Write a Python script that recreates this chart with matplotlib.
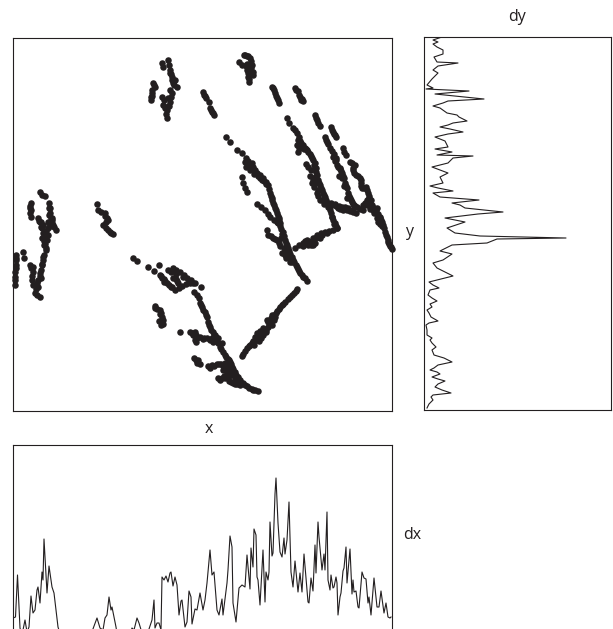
import matplotlib
matplotlib.use('Agg')
import matplotlib.pyplot as plt

plt.rcParams['font.family'] = ['Open Sans', 'DejaVu Sans']

W = 613.0
H = 629.0
INK = '#231f20'

# scatter values, one list per cluster
top_a_x = [162, 163, 168, 169, 170, 171, 172, 173, 175, 177, 172, 171, 170, 169, 167, 167, 162, 163, 165, 153, 155, 152, 151, 152, 170, 172, 174, 170, 168, 168, 166, 164, 154, 152, 151]
top_a_y = [63, 67, 60, 65, 70, 74, 77, 83, 80, 87, 93, 97, 102, 106, 110, 118, 97, 105, 108, 83, 87, 93, 100, 96, 73, 80, 85, 90, 98, 106, 114, 100, 85, 90, 97]
left_a_x = [40, 42, 45, 31, 30, 30, 49, 50, 50, 52, 52, 38, 41, 41, 42, 43, 45, 45, 46, 50, 52, 56, 48, 47, 31, 49, 51, 53, 54, 49, 48, 50, 30, 40, 43, 42, 44, 46, 46, 48, 52, 31, 39, 44]
left_a_y = [192, 195, 196, 203, 208, 213, 203, 208, 213, 223, 218, 218, 222, 227, 228, 233, 238, 244, 250, 226, 225, 230, 235, 240, 217, 208, 218, 225, 227, 215, 222, 225, 206, 222, 225, 238, 245, 248, 231, 228, 220, 210, 221, 241]
left_b_x = [16, 16, 16, 15, 15, 15, 23, 24, 30, 33, 33, 32, 37, 40, 43, 42, 41, 35, 40, 38, 44, 33, 16, 16, 15, 42, 43, 41, 40, 38, 31, 32, 36, 37]
left_b_y = [255, 260, 265, 272, 277, 285, 252, 258, 265, 267, 272, 280, 283, 273, 260, 264, 278, 293, 297, 287, 255, 285, 258, 268, 280, 265, 257, 270, 276, 280, 268, 276, 289, 295]
mid_c_x = [97, 98, 101, 105, 108, 104, 107, 103, 108, 113, 110, 105, 106, 106, 111]
mid_c_y = [204, 210, 212, 213, 220, 225, 218, 225, 230, 234, 232, 216, 222, 228, 233]
top_d_x = [239, 242, 245, 248, 250, 252, 253, 247, 248, 249, 250, 247, 244, 247, 251, 251, 248, 249, 246, 253, 249]
top_d_y = [62, 65, 55, 56, 58, 65, 72, 70, 77, 82, 70, 64, 55, 56, 61, 68, 73, 66, 66, 75, 79]
strip_e_x = [203, 204, 206, 209, 210, 212, 214, 205, 211, 213]
strip_e_y = [92, 95, 98, 102, 108, 112, 115, 96, 110, 113]
strip_f_x = [272, 274, 275, 277, 279, 273, 276, 278]
strip_f_y = [87, 90, 93, 98, 103, 88, 96, 100]
strip_g_x = [295, 298, 300, 303, 301, 299, 296, 302]
strip_g_y = [88, 91, 97, 101, 100, 95, 90, 99]
branch_h_x = [287, 289, 293, 297, 298, 301, 303, 306, 308, 311, 313, 314, 315, 317, 318, 320, 322, 325, 327, 330, 332, 335, 337,
              295, 299, 300, 305, 307, 310, 312, 315, 316, 316, 319, 321, 323, 324, 326, 328, 329, 331, 333, 334, 336]
branch_h_y = [118, 123, 128, 133, 140, 143, 145, 149, 152, 156, 160, 165, 170, 175, 180, 185, 190, 197, 203, 210, 217, 223, 228,
              130, 137, 141, 148, 150, 154, 158, 163, 168, 172, 183, 188, 193, 195, 200, 207, 207, 213, 220, 224, 226]
side_h_x = [297, 298, 300, 306, 311, 315, 312, 314, 317, 320, 310, 308, 299, 302, 304, 318, 315, 313, 318, 322, 324]
side_h_y = [145, 152, 148, 164, 170, 177, 183, 187, 193, 200, 176, 167, 148, 146, 149, 190, 183, 180, 196, 200, 204]
strip_i_x = [315, 317, 320, 331, 333, 336, 343, 346, 316, 318, 332, 334, 335, 344]
strip_i_y = [115, 120, 126, 127, 132, 137, 148, 155, 118, 123, 130, 134, 135, 152]
branch_k_x = [325, 328, 332, 333, 335, 337, 340, 342, 344, 345, 347, 348, 350, 352, 354, 357, 360, 363, 336, 340, 339,
              326, 327, 330, 334, 336, 338, 341, 343, 346, 349, 351, 353, 355, 342, 344, 347]
branch_k_y = [137, 144, 151, 157, 161, 165, 169, 173, 178, 183, 188, 193, 198, 202, 205, 207, 209, 210, 160, 168, 176,
              140, 142, 148, 154, 158, 167, 171, 176, 186, 196, 200, 204, 206, 178, 186, 198]
cross_x = [328, 331, 335, 339, 342, 345, 348, 352, 356, 338, 343, 332, 336, 340, 344, 347, 350, 353]
cross_y = [203, 203, 204, 206, 207, 207, 208, 210, 213, 208, 210, 205, 206, 209, 209, 210, 211, 212]
branch_m_x = [350, 355, 353, 354, 360, 361, 362, 366, 368, 369, 370, 373, 376, 380, 383, 380, 382, 385, 387, 388, 390, 392, 365, 372, 377, 378,
              352, 353, 356, 358, 361, 361, 364, 367, 369, 371, 372, 374, 376, 378, 381, 384, 386, 388, 389, 391, 367, 369, 374, 377, 380, 370, 363, 367, 382]
branch_m_y = [162, 165, 168, 173, 178, 183, 188, 187, 193, 198, 203, 210, 213, 217, 225, 218, 226, 232, 237, 242, 246, 249, 203, 207, 208, 222,
              163, 170, 175, 176, 180, 186, 188, 190, 196, 200, 205, 208, 211, 214, 220, 228, 235, 240, 244, 247, 200, 205, 213, 218, 224, 209, 205, 205, 222]
leaf_n_x = [337, 333, 329, 325, 321, 317, 313, 310, 306, 303, 299, 295, 315, 307, 311, 320, 332, 305, 308, 312, 315, 318, 322, 327, 313, 308, 303]
leaf_n_y = [228, 230, 231, 232, 233, 235, 238, 242, 243, 243, 245, 248, 243, 240, 245, 238, 217, 241, 243, 241, 238, 237, 235, 233, 245, 245, 246]
trunk_o_x = [277, 280, 283, 284, 285, 287, 289, 292, 294, 297, 299, 302, 305, 307, 267, 268, 273, 277, 280, 282, 286, 290,
             278, 281, 282, 286, 288, 290, 293, 296, 298, 300, 303, 281, 284, 287, 288, 285, 292, 271, 275, 279]
trunk_o_y = [220, 226, 232, 236, 240, 245, 251, 257, 262, 267, 271, 275, 278, 281, 230, 235, 238, 240, 246, 253, 258, 262,
             223, 229, 234, 243, 248, 254, 260, 265, 269, 273, 277, 238, 248, 252, 257, 255, 262, 236, 239, 243]
branch_p_x = [226, 230, 237, 242, 245, 248, 252, 250, 254, 257, 260, 263, 266, 268, 269, 270, 272, 273, 275, 277, 279, 280, 242, 243, 245, 247, 257, 261, 265, 268, 270, 274, 277,
              246, 248, 251, 253, 255, 258, 260, 262, 264, 266, 271, 272, 274, 276, 278, 279, 246, 254]
branch_p_y = [137, 142, 150, 153, 162, 161, 163, 170, 170, 173, 175, 178, 182, 185, 189, 193, 198, 203, 208, 213, 218, 223, 177, 183, 188, 192, 204, 207, 210, 214, 217, 220, 222,
              158, 165, 166, 167, 170, 176, 178, 180, 181, 184, 196, 200, 205, 210, 216, 220, 167, 174]
diag_q_x = [297, 294, 290, 285, 282, 280, 277, 275, 272, 270, 272, 268, 263, 261, 258, 255, 252, 250, 247, 242, 263, 266,
            296, 292, 288, 283, 279, 276, 274, 274, 271, 268, 270, 266, 260, 256, 253, 249, 245, 243, 260, 257, 259, 261, 254, 267]
diag_q_y = [289, 293, 297, 302, 305, 307, 311, 317, 315, 320, 325, 327, 328, 332, 338, 337, 343, 345, 348, 356, 335, 332,
            291, 295, 299, 304, 309, 313, 315, 320, 318, 322, 324, 330, 335, 340, 341, 346, 351, 354, 331, 333, 341, 338, 345, 320]
low_r_x = [133, 137, 148, 154, 159, 173, 168, 176, 180, 184, 187, 191, 195, 162, 165, 167, 171, 175, 179, 182, 186, 190, 173, 177, 194, 199, 197,
           161, 164, 169, 172, 178, 183, 176, 189, 193, 171, 176, 164, 160]
low_r_y = [258, 261, 267, 271, 265, 268, 270, 270, 272, 275, 278, 280, 283, 278, 281, 283, 287, 290, 288, 286, 284, 283, 278, 281, 292, 298, 295,
           276, 279, 285, 287, 283, 277, 279, 281, 283, 272, 274, 282, 275]
low_s_x = [155, 157, 160, 160, 162, 163, 159, 155, 161, 163, 161]
low_s_y = [306, 309, 310, 314, 317, 324, 321, 308, 313, 320, 325]
low_t_x = [180, 190, 195, 194, 197, 196, 194, 197, 198, 193, 196, 195, 192, 196]
low_t_y = [332, 332, 332, 335, 338, 342, 358, 363, 360, 335, 335, 340, 333, 360]
trunk_u_x = [200, 202, 205, 207, 208, 210, 213, 215, 218, 207, 200, 204, 210, 213, 218, 222, 223, 225, 228, 230, 232, 235, 238, 243, 247, 252, 255, 258,
             201, 203, 206, 209, 211, 214, 216, 203, 212, 216, 220, 221, 226, 229, 231, 233, 236, 240, 245, 249, 253, 227, 229, 232, 235, 231, 237, 241]
trunk_u_y = [303, 307, 312, 317, 322, 327, 332, 335, 338, 338, 337, 338, 340, 342, 343, 343, 352, 355, 359, 362, 367, 372, 377, 383, 386, 389, 390, 391,
             305, 310, 315, 325, 330, 335, 337, 339, 338, 341, 347, 349, 357, 360, 364, 369, 375, 380, 385, 388, 390, 365, 370, 375, 379, 372, 380, 383]
foot_v_x = [208, 212, 217, 221, 225, 229, 232, 218, 222, 225, 229, 233, 237, 240, 223, 227, 200, 201, 210, 214, 219, 223, 226, 228, 220, 224, 231, 235, 229]
foot_v_y = [366, 365, 364, 364, 363, 365, 368, 378, 378, 378, 381, 383, 384, 385, 370, 373, 364, 287, 368, 366, 364, 366, 368, 370, 380, 376, 382, 384, 376]

clusters_x = [top_a_x, left_a_x, left_b_x, mid_c_x, top_d_x, strip_e_x, strip_f_x, strip_g_x, branch_h_x, side_h_x,
              strip_i_x, branch_k_x, cross_x, branch_m_x, leaf_n_x, trunk_o_x, branch_p_x, diag_q_x, low_r_x, low_s_x,
              low_t_x, trunk_u_x, foot_v_x]
clusters_y = [top_a_y, left_a_y, left_b_y, mid_c_y, top_d_y, strip_e_y, strip_f_y, strip_g_y, branch_h_y, side_h_y,
              strip_i_y, branch_k_y, cross_y, branch_m_y, leaf_n_y, trunk_o_y, branch_p_y, diag_q_y, low_r_y, low_s_y,
              low_t_y, trunk_u_y, foot_v_y]

# dx trace
dx_pos = [13, 15.5, 17.5, 20, 22, 25, 27, 29, 31, 33, 35, 37, 38, 40, 42, 43, 44, 47, 49, 52, 54, 58, 62, 90, 97, 100,
          103, 105, 107, 109, 111, 112, 116, 118, 128, 132, 134, 137, 139, 142, 148, 152, 154, 155, 157, 159, 161, 162,
          164, 166, 168, 170, 171, 173, 175, 177, 179, 181, 182, 185, 187, 189, 191, 192, 195, 197, 200, 203, 205, 207,
          210, 212, 214, 217, 219, 222, 223, 227, 228, 230, 232, 233, 236, 239, 242, 245, 247, 250, 251, 253, 254, 256,
          257, 258, 260, 263, 265, 266, 268, 269, 270, 272, 273, 275, 276, 278, 280, 282, 284, 285, 287, 289, 291, 293,
          295, 298, 300, 302, 304, 308, 309, 311, 313, 315, 316, 318, 319, 322, 324, 325, 327, 328, 330, 331, 333, 334,
          336, 337, 338, 340, 341, 343, 344, 346, 347, 350, 352, 353, 354, 356, 358, 359, 362, 364, 366, 368, 369, 371,
          374, 377, 379, 381, 384, 386, 388, 390, 391]
dx_val = [11, 12, 54, 1, -6, 9, -3, 2, 33, 16, 19, 39, 42, 26, 57, 49, 90, 36, 63, 42, 36, 2, -11, -8, 11, 1,
          -1, 11, 14, 32, 19, 22, 2, -11, -11, 1, -1, 11, 6, -4, -3, 9, 29, 1, 6, 6, -1, 52,
          49, 53, 47, 56, 57, 43, 52, 44, 14, 28, 29, 2, 7, 38, 32, 5, 20, 19, 36, 19, 29, 46,
          79, 54, 57, 19, 14, 30, 14, 46, 59, 93, 82, 26, 7, 41, 44, 42, 74, 40, 81, 62, 100, 94,
          52, 49, 24, 79, 27, 57, 49, 57, 107, 73, 76, 135, 151, 106, 77, 72, 91, 75, 89, 127, 57, 42,
          68, 37, 56, 37, 75, 27, 26, 51, 38, 84, 56, 107, 92, 59, 75, 59, 117, 49, 39, 54, 41, 42,
          52, 46, 14, 32, 36, 58, 61, 82, 46, 80, 35, 49, 37, 38, 22, 21, 57, 51, 50, 26, 32, 14,
          51, 22, 22, 38, 16, 26, 12, 11, 12]

# dy trace
dy_pos = [37, 40, 42, 44, 47, 50, 54, 57, 62, 63, 66, 70, 73, 79, 85, 88, 89, 91, 94, 99, 101, 103, 106, 108, 113, 115,
          117, 121, 123, 125, 127, 129, 132, 134, 137, 141, 147, 149, 152, 155, 156, 158, 163, 167, 170, 173, 177, 183,
          186, 188, 191, 193, 197, 200, 203, 205, 208, 212, 214, 218, 222, 228, 233, 236, 238, 239, 243, 245, 251, 254,
          260, 263, 268, 272, 276, 282, 285, 288, 290, 295, 298, 301, 304, 307, 310, 313, 317, 321, 323, 325, 330, 335,
          338, 340, 343, 347, 350, 355, 358, 360, 362, 365, 368, 370, 372, 374, 377, 379, 381, 384, 387, 390, 393, 395,
          397, 400, 404, 408]
dy_val = [18, 9, 14, 9, 13, 19, 19, 10, 13, 34, 14, 9, 14, 8, 3, 9, 2, 45, 11, 60, 24, 19, 9, 16, 23, 33,
          35, 43, 29, 24, 16, 26, 39, 24, 11, 21, 24, 11, 28, 13, 49, 29, 24, 8, 16, 24, 16, 19,
          6, 14, 29, 9, 16, 55, 28, 36, 41, 79, 54, 21, 41, 23, 31, 56, 142, 73, 63, 28, 16, 28,
          19, 9, 13, 21, 29, 5, 9, 15, 6, 4, 8, 13, 6, 8, 3, 5, 7, 14, 5, 2, 3, 3,
          8, 6, 8, 12, 8, 10, 20, 24, 28, 14, 10, 6, 13, 16, 8, 14, 21, 14, 11, 18, 27, 9,
          7, 9, 5, 3]


def box(left, top, right, bottom):
    return [left / W, 1 - bottom / H, (right - left) / W, (bottom - top) / H]


def clean(ax):
    ax.set_xticks([])
    ax.set_yticks([])
    for s in ax.spines.values():
        s.set_linewidth(0.8)
        s.set_color(INK)


fig = plt.figure(figsize=(W / 100, H / 100), dpi=100)

ax1 = fig.add_axes(box(13, 38, 391.5, 411))
for xs, ys in zip(clusters_x, clusters_y):
    ax1.scatter(xs, ys, s=22, color=INK, linewidths=0, clip_on=False, zorder=3)
ax1.set_xlim(13, 391.5)
ax1.set_ylim(411, 38)
clean(ax1)

ax2 = fig.add_axes(box(424, 37, 611, 410))
ax2.plot(dy_val, dy_pos, color=INK, lw=0.8)
ax2.set_xlim(0, 187)
ax2.set_ylim(410, 37)
clean(ax2)

ax3 = fig.add_axes(box(13, 445, 391.5, 629))
ax3.plot(dx_pos, dx_val, color=INK, lw=0.8)
ax3.set_xlim(13, 391.5)
ax3.set_ylim(0, 184)
clean(ax3)
ax3.spines['bottom'].set_visible(False)

for label, px, py in [('dy', 517, 17), ('x', 209, 429), ('y', 409, 232), ('dx', 412, 535)]:
    fig.text(px / W, 1 - py / H, label, fontsize=11.5, color=INK, ha='center', va='center')

fig.savefig('out.png', dpi=100)
